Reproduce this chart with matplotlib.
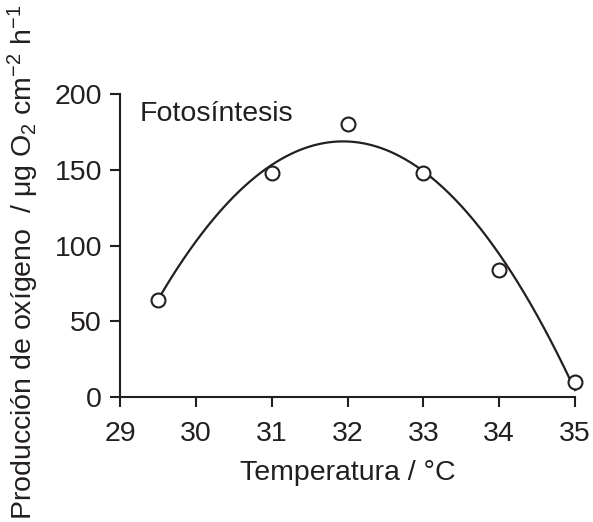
import numpy as np
import matplotlib
matplotlib.use("Agg")
import matplotlib.pyplot as plt

plt.rcParams['font.family'] = ['Liberation Sans', 'DejaVu Sans']
plt.rcParams['mathtext.fontset'] = 'custom'
plt.rcParams['mathtext.rm'] = 'Liberation Sans'
plt.rcParams['mathtext.it'] = 'Liberation Sans'
plt.rcParams['mathtext.default'] = 'regular'

# Data
temperatura = [29.5, 31, 32, 33, 34, 35]
produccion = [64, 148, 180, 148, 84, 10]
x_ticks = [29, 30, 31, 32, 33, 34, 35]
y_ticks = [0, 50, 100, 150, 200]

ink = '#231f20'
fs = 20.5

fig = plt.figure(figsize=(5.93, 5.22), dpi=100)
ax = fig.add_axes([120/593, 1-397/522, 455/593, 303/522])

# fitted trend curve (quadratic fit of the data)
coef = np.polyfit(temperatura, produccion, 2)
xs = np.linspace(temperatura[0], temperatura[-1], 200)
ax.plot(xs, np.polyval(coef, xs), color=ink, lw=1.6, zorder=2, clip_on=False)
ax.plot(temperatura, produccion, 'o', ms=10, mfc='white', mec=ink, mew=1.5, zorder=3, clip_on=False)

ax.set_xlim(29, 35)
ax.set_ylim(0, 200)
ax.set_xticks(x_ticks)
ax.set_yticks(y_ticks)
for s in ['top', 'right']:
    ax.spines[s].set_visible(False)
for s in ['left', 'bottom']:
    ax.spines[s].set_linewidth(1.5)
    ax.spines[s].set_color(ink)
ax.tick_params(direction='out', length=7, width=1.5, colors=ink, labelsize=fs)
ax.tick_params(axis='x', pad=10)
ax.tick_params(axis='y', pad=6)

ax.set_xlabel('Temperatura / °C', fontsize=fs, color=ink, labelpad=10)
fig.text(23/593, 1-262/522, 'Producción de oxígeno  / μg O$_2$ cm$^{-2}$ h$^{-1}$',
         rotation=90, ha='center', va='center', fontsize=fs, color=ink)
ax.text(29.26, 182, 'Fotosíntesis', fontsize=fs, color=ink, ha='left', va='baseline')

fig.savefig('out.png', dpi=100)
